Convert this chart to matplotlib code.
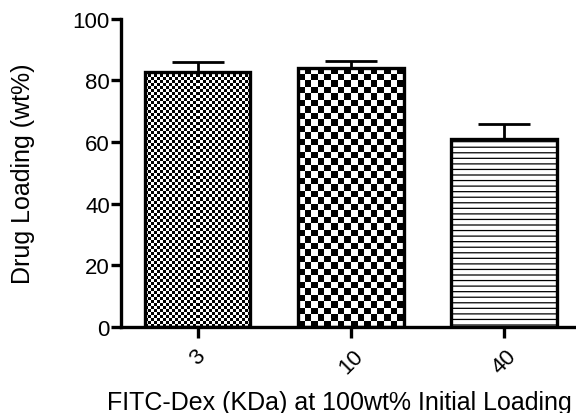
import numpy as np
import matplotlib
matplotlib.use('Agg')
import matplotlib.pyplot as plt

# Data
categories = ['3', '10', '40']
loading = [82.8, 84.1, 61.0]
loading_err = [3.2, 2.3, 4.9]

plt.rcParams['font.family'] = ['Liberation Sans', 'DejaVu Sans']
plt.rcParams['hatch.linewidth'] = 0.9

fig = plt.figure(figsize=(5.76, 4.14), dpi=100)
ax = fig.add_axes([0.21, 0.208, 0.79, 0.744])

x = np.arange(len(categories))
bars = ax.bar(x, loading, width=0.69, facecolor='none', edgecolor='black',
              linewidth=2.4, zorder=3)
ax.errorbar(x, loading, yerr=[[0] * len(x), loading_err], fmt='none',
            ecolor='black', elinewidth=2.0, capsize=19, capthick=2.0, zorder=2)

ax.set_xlim(-0.5, 2.47)
ax.set_ylim(0, 100)

# fill patterns: fine checker, coarse checker, horizontal lines
cell_px = [3, 6.5, None]
fig.canvas.draw()
for bar, cell in zip(bars, cell_px):
    bx, by = bar.get_x(), bar.get_y()
    bw, bh = bar.get_width(), bar.get_height()
    if cell is None:
        bar.set_hatch('---')
        continue
    p0 = ax.transData.transform((bx, by))
    p1 = ax.transData.transform((bx + bw, by + bh))
    ncols = max(1, int(round((p1[0] - p0[0]) / cell)))
    nrows = max(1, int(round((p1[1] - p0[1]) / cell)))
    board = (np.add.outer(np.arange(nrows), np.arange(ncols)) % 2).astype(float)
    im = ax.imshow(board, cmap='gray', extent=(bx, bx + bw, by, by + bh),
                   interpolation='nearest', aspect='auto', zorder=2.5,
                   origin='lower')
    im.set_clip_path(bar)

ax.set_xlim(-0.5, 2.47)
ax.set_ylim(0, 100)

for side in ['top', 'right']:
    ax.spines[side].set_visible(False)
for side in ['left', 'bottom']:
    ax.spines[side].set_linewidth(2.4)

ax.set_yticks([0, 20, 40, 60, 80, 100])
ax.set_xticks(x)
ax.set_xticklabels(categories, rotation=45, ha='center')
ax.tick_params(axis='both', width=2.4, labelsize=16)
ax.tick_params(axis='y', length=7, pad=1)
ax.tick_params(axis='x', length=8, pad=5)

ax.set_ylabel('Drug Loading (wt%)', fontsize=18)
ax.yaxis.set_label_coords(-0.188, 0.5)
ax.set_xlabel('FITC-Dex (KDa) at 100wt% Initial Loading', fontsize=18)
ax.xaxis.set_label_coords(0.48, -0.205)

fig.savefig('out.png', dpi=100)
